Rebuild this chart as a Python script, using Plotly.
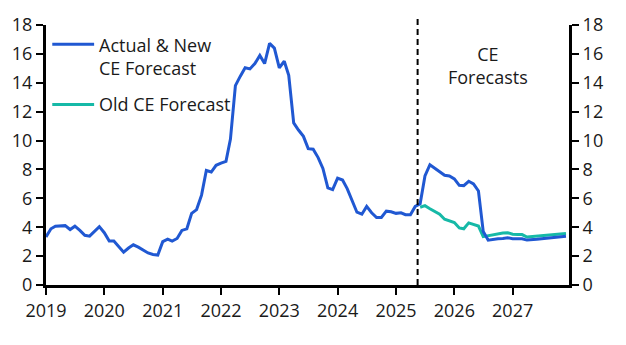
import plotly.graph_objects as go
import pandas as pd

# Monthly data, Jan 2019 onward
actual_new = [
    # 2019
    3.33, 3.89, 4.07, 4.11, 4.11, 3.84, 4.07, 3.78, 3.44, 3.38, 3.71, 4.04,
    # 2020
    3.62, 3.04, 3.04, 2.67, 2.27, 2.56, 2.78, 2.62, 2.44, 2.22, 2.11, 2.07,
    # 2021
    3.00, 3.18, 3.04, 3.22, 3.78, 3.89, 4.96, 5.22, 6.22, 7.93, 7.82, 8.29,
    # 2022
    8.44, 8.56, 10.1, 13.8, 14.44, 15.04, 14.96, 15.33, 15.89, 15.33, 16.73, 16.40,
    # 2023
    15.04, 15.49, 14.51, 11.22, 10.73, 10.29, 9.44, 9.40, 8.82, 8.07, 6.73, 6.60,
    # 2024
    7.40, 7.27, 6.67, 5.90, 5.04, 4.90, 5.44, 5.00, 4.67, 4.67, 5.11, 5.07,
    # 2025
    4.96, 5.00, 4.87, 4.87, 5.44, 5.62, 7.55, 8.33, 8.10, 7.85, 7.60, 7.55,
    # 2026
    7.35, 6.90, 6.88, 7.18, 7.00, 6.51, 3.70, 3.10, 3.17, 3.20, 3.22, 3.27,
    # 2027
    3.20, 3.18, 3.20, 3.11, 3.12, 3.16, 3.20, 3.24, 3.26, 3.30, 3.34, 3.38,
]
actual_dates = pd.date_range("2019-01-01", periods=len(actual_new), freq="MS")

old_forecast = [
    # Jun 2025 - Dec 2025
    5.38, 5.49, 5.28, 5.10, 4.90, 4.55, 4.45,
    # 2026
    4.33, 3.95, 3.89, 4.30, 4.18, 4.08, 3.35, 3.42, 3.50, 3.56, 3.60, 3.62,
    # 2027
    3.52, 3.50, 3.49, 3.32, 3.35, 3.36, 3.38, 3.41, 3.44, 3.47, 3.51, 3.56,
]
old_dates = pd.date_range("2025-06-01", periods=len(old_forecast), freq="MS")

year_ticks = [f"{y}-01-01" for y in range(2019, 2028)]
year_labels = [str(y) for y in range(2019, 2028)]
y_ticks = list(range(0, 19, 2))
forecast_start = "2025-05-16"

BLUE = "#2058d2"
TEAL = "#16b9a7"
TXT = "#1a1a1a"
FONT = "Open Sans"
FS = 18

fig = go.Figure()
fig.add_trace(go.Scatter(x=old_dates, y=old_forecast, mode="lines",
                         line=dict(color=TEAL, width=3), showlegend=False))
fig.add_trace(go.Scatter(x=actual_dates, y=actual_new, mode="lines",
                         line=dict(color=BLUE, width=3), showlegend=False))
# invisible trace to activate right axis
fig.add_trace(go.Scatter(x=actual_dates[:1], y=[None], yaxis="y2", showlegend=False))

fig.add_shape(type="line", xref="x", yref="paper", x0=forecast_start, x1=forecast_start,
              y0=0, y1=1.025, line=dict(color="black", width=2, dash="6px,4px"))

# legend (manual)
fig.add_shape(type="line", xref="paper", yref="paper", x0=0.012, x1=0.092,
              y0=(285-35)/270, y1=(285-35)/270, line=dict(color=BLUE, width=3))
fig.add_shape(type="line", xref="paper", yref="paper", x0=0.012, x1=0.092,
              y0=(285-97.5)/270, y1=(285-97.5)/270, line=dict(color=TEAL, width=3))
fig.add_annotation(xref="paper", yref="paper", x=0.097, y=(285-47.5)/270,
                   text="Actual & New<br>CE Forecast", showarrow=False,
                   xanchor="left", yanchor="middle", align="left",
                   font=dict(family=FONT, size=FS, color=TXT))
fig.add_annotation(xref="paper", yref="paper", x=0.097, y=(285-97.5)/270,
                   text="Old CE Forecast", showarrow=False,
                   xanchor="left", yanchor="middle", align="left",
                   font=dict(family=FONT, size=FS, color=TXT))
fig.add_annotation(xref="paper", yref="paper", x=(488-45.7)/523.6, y=(285-57.5)/270,
                   text="CE<br>Forecasts", showarrow=False,
                   xanchor="center", yanchor="middle", align="center",
                   font=dict(family=FONT, size=FS, color=TXT))

axis_common = dict(showgrid=False, zeroline=False, showline=True, linecolor="black",
                   linewidth=3, ticks="outside", ticklen=7, tickwidth=2, tickcolor="black",
                   tickfont=dict(family=FONT, size=FS, color=TXT))

fig.update_layout(
    width=626, height=345,
    margin=dict(l=46, r=57, t=15, b=60),
    paper_bgcolor="white", plot_bgcolor="white",
    xaxis=dict(range=["2019-01-01", "2027-12-20"], tickvals=year_ticks, ticktext=year_labels,
               **axis_common),
    yaxis=dict(range=[0, 18], tickvals=y_ticks, **axis_common),
    yaxis2=dict(range=[0, 18], tickvals=y_ticks, overlaying="y", side="right", **axis_common),
)

fig.write_html("out.html")
